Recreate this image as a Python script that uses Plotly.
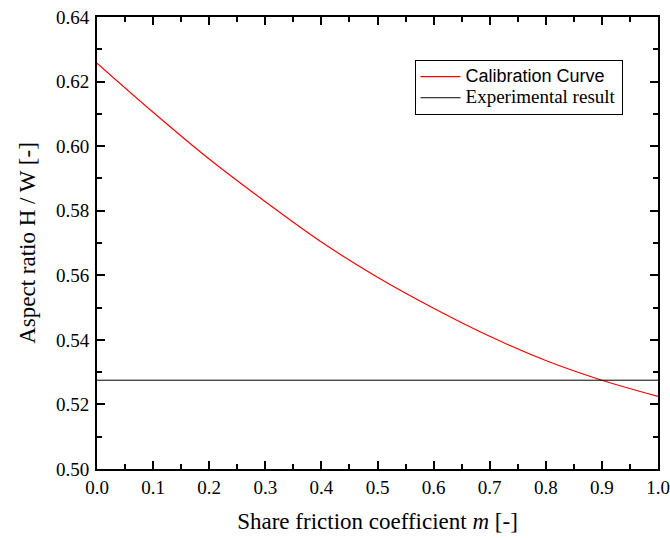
import plotly.graph_objects as go

# friction coefficient m and calibrated aspect ratio H/W
m_values = [0.0, 0.1, 0.2, 0.3, 0.4, 0.5, 0.6, 0.7, 0.8, 0.9, 1.0]
aspect_ratio = [0.6257, 0.6105, 0.5960, 0.5828, 0.5703, 0.5594, 0.5498,
                0.5411, 0.5336, 0.5275, 0.5225]

# measured value, drawn as a flat line across the whole range
experimental_x = [0.0, 1.0]
experimental_y = [0.5275, 0.5275]

x_ticks = [0.0, 0.1, 0.2, 0.3, 0.4, 0.5, 0.6, 0.7, 0.8, 0.9, 1.0]
y_ticks = [0.50, 0.52, 0.54, 0.56, 0.58, 0.60, 0.62, 0.64]

SERIF = "Liberation Serif"
SANS = "Liberation Sans"

fig = go.Figure()

fig.add_trace(
    go.Scatter(
        x=m_values,
        y=aspect_ratio,
        mode="lines",
        line=dict(color="#ff0000", width=1.2, shape="spline"),
        name=f'<span style="font-family:{SANS};font-size:18px">Calibration Curve</span>',
    )
)

fig.add_trace(
    go.Scatter(
        x=experimental_x,
        y=experimental_y,
        mode="lines",
        line=dict(color="black", width=1),
        name='<span style="font-size:19px">Experimental result</span>',
    )
)

axis_common = dict(
    showline=True,
    linecolor="black",
    linewidth=2,
    mirror="ticks",
    ticks="inside",
    ticklen=8,
    tickwidth=2,
    tickcolor="black",
    showgrid=False,
    zeroline=False,
    automargin=False,
    ticklabeloverflow="allow",
    tickfont=dict(family=SERIF, size=19, color="black"),
    title_font=dict(family=SERIF, size=23, color="black"),
)

fig.update_xaxes(
    **axis_common,
    range=[0, 1],
    tickvals=x_ticks,
    ticktext=[f"{v:.1f}" for v in x_ticks],
    minor=dict(ticks="inside", ticklen=5, tickwidth=2, tickcolor="black", dtick=0.05),
    title_text="Share friction coefficient <i>m</i> [-]",
    title_standoff=16,
)

fig.update_yaxes(
    **axis_common,
    range=[0.50, 0.64],
    tickvals=y_ticks,
    ticktext=[f"{v:.2f}" for v in y_ticks],
    minor=dict(ticks="inside", ticklen=5, tickwidth=2, tickcolor="black", dtick=0.01),
    title_text="Aspect ratio H / W [-]",
    title_standoff=14,
    ticklabelstandoff=2,
)

fig.update_layout(
    width=670,
    height=538,
    margin=dict(l=97, r=12, t=17, b=69),
    plot_bgcolor="white",
    paper_bgcolor="white",
    font=dict(family=SERIF, color="black"),
    legend=dict(
        x=0.566,
        y=0.905,
        xanchor="left",
        yanchor="top",
        bgcolor="white",
        bordercolor="black",
        borderwidth=1,
        itemwidth=40,
        font=dict(family=SERIF, size=14, color="black"),
        tracegroupgap=0,
    ),
)

# drop the default 8px body margin so the figure fills the window exactly
fig.write_html(
    "out.html",
    config={"displayModeBar": False},
    post_script="document.body.style.margin = '0';",
)
